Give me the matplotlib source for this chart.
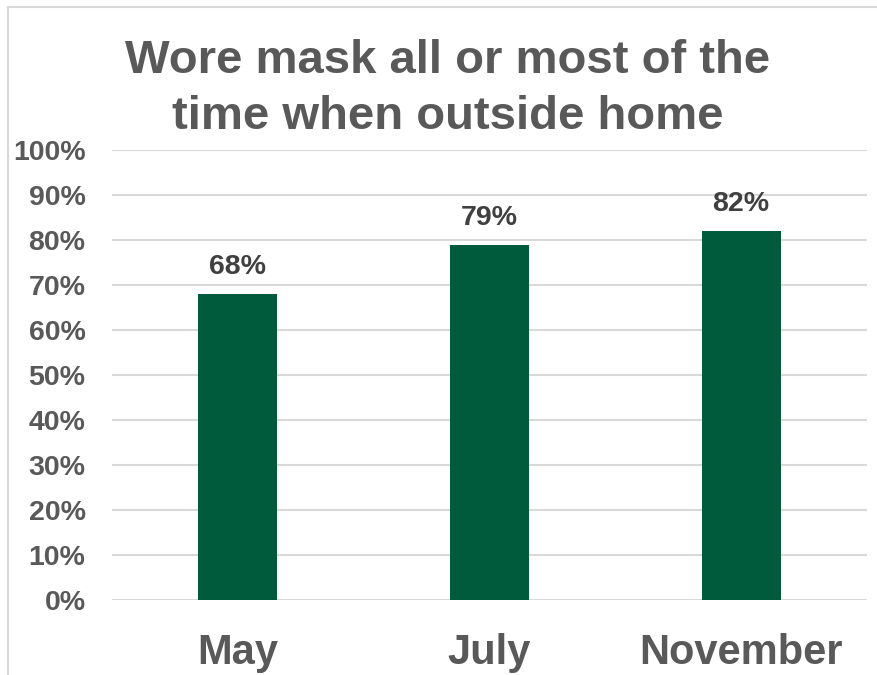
import matplotlib
matplotlib.use("Agg")
import matplotlib.pyplot as plt
from matplotlib.lines import Line2D

months = ["May", "July", "November"]
share_wearing_mask = [68, 79, 82]
y_ticks = [0, 10, 20, 30, 40, 50, 60, 70, 80, 90, 100]
y_tick_labels = [f"{t}%" for t in y_ticks]
title = "Wore mask all or most of the\ntime when outside home"

plt.rcParams["font.family"] = ["Liberation Sans", "DejaVu Sans"]
plt.rcParams["font.weight"] = "bold"

W, H, DPI = 878, 675, 100
fig = plt.figure(figsize=(W / DPI, H / DPI), dpi=DPI)

ax = fig.add_axes([112 / W, 1 - 600 / H, (867 - 112) / W, (600 - 150) / H])

bar_color = "#005A3C"
text_grey = "#595959"
label_dark = "#404040"
grid_grey = "#D9D9D9"

x = list(range(len(months)))
bars = ax.bar(x, share_wearing_mask, width=0.313, color=bar_color, zorder=3)

for xi, v in zip(x, share_wearing_mask):
    ax.annotate(f"{v}%", (xi, v), xytext=(0, 10), textcoords="offset points",
                ha="center", va="bottom", fontsize=20.5, fontweight="bold",
                color=label_dark)

ax.set_xlim(-0.5, len(months) - 0.5)
ax.set_ylim(0, 100)
ax.set_yticks(y_ticks)
ax.set_yticklabels(y_tick_labels)
ax.set_xticks(x)
ax.set_xticklabels(months)

ax.tick_params(axis="y", length=0, pad=19, labelsize=20.5, labelcolor=text_grey)
ax.tick_params(axis="x", length=0, pad=24, labelsize=30, labelcolor=text_grey)
for lbl in ax.get_xticklabels() + ax.get_yticklabels():
    lbl.set_fontweight("bold")

ax.yaxis.grid(True, color=grid_grey, linewidth=1.5, zorder=0)
ax.xaxis.grid(False)
for s in ax.spines.values():
    s.set_visible(False)

fig.text(448 / W, 1 - 39 / H, title, ha="center", va="top", fontsize=34,
         fontweight="bold", color=text_grey, linespacing=1.36)

# chart area frame (left and top edges)
fig.add_artist(Line2D([8 / W, 8 / W], [0, 1 - 7 / H], transform=fig.transFigure,
                      color=grid_grey, linewidth=1.5))
fig.add_artist(Line2D([8 / W, 1], [1 - 7 / H, 1 - 7 / H], transform=fig.transFigure,
                      color=grid_grey, linewidth=1.5))

fig.savefig("out.png", dpi=DPI, facecolor="white")
